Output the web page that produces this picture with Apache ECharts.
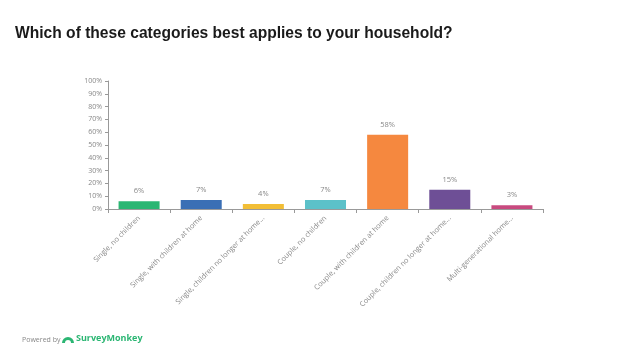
<!DOCTYPE html>
<html>
<head>
<meta charset="utf-8">
<script src="https://cdn.jsdelivr.net/npm/echarts@6/dist/echarts.min.js"></script>
<style>
	html, body { margin: 0; padding: 0; background: #fff; }
	#chart { width: 626px; height: 351px; }
</style>
</head>
<body>
<div id="chart"></div>
<script>
	// 数据
	const categories = [
		'Single, no children',
		'Single, with children at home',
		'Single, children no longer at home...',
		'Couple, no children',
		'Couple, with children at home',
		'Couple, children no longer at home...',
		'Multi-generational home...'
	]
	const values = [6, 7, 4, 7, 58, 15, 3]
	const barColors = ['#2bb673', '#3a6fb5', '#f2be36', '#5cc1c9', '#f5883f', '#6e4f96', '#c84a7f']
	const yTicks = [0, 10, 20, 30, 40, 50, 60, 70, 80, 90, 100]

	const myChart = echarts.init(document.getElementById('chart'))

	const option = {
		animation: false,
		title: {
			text: 'Which of these categories best applies to your household?',
			left: 10,
			top: 21,
			textStyle: {
				fontFamily: 'Liberation Sans',
				fontSize: 15.6,
				fontWeight: 'bold',
				color: '#1a1a1a'
			}
		},
		grid: {
			left: 108,
			right: 83,
			top: 81,
			bottom: 142
		},
		xAxis: {
			type: 'category',
			data: categories,
			axisLine: { lineStyle: { color: '#999' } },
			axisTick: { show: true, length: 4, lineStyle: { color: '#999' } },
			axisLabel: {
				interval: 0,
				rotate: 45,
				margin: 8,
				fontSize: 7.3,
				color: '#888',
				fontFamily: 'Open Sans'
			}
		},
		yAxis: {
			type: 'value',
			min: yTicks[0],
			max: yTicks[yTicks.length - 1],
			interval: 10,
			axisLine: { show: true, lineStyle: { color: '#999' } },
			axisTick: { show: true, length: 3, lineStyle: { color: '#999' } },
			splitLine: { show: false },
			axisLabel: {
				formatter: '{value}%',
				fontSize: 7,
				color: '#888',
				margin: 6,
				fontFamily: 'Open Sans'
			}
		},
		series: [{
			type: 'bar',
			barWidth: '66%',
			data: values.map((v, i) => ({
				value: v,
				itemStyle: { color: barColors[i] }
			})),
			label: {
				show: true,
				position: 'top',
				distance: 6,
				formatter: '{c}%',
				fontSize: 7.5,
				color: '#888',
				fontFamily: 'Open Sans'
			}
		}],
		graphic: [{
			type: 'text',
			left: 22,
			top: 336,
			style: {
				text: 'Powered by',
				fontSize: 7,
				fill: '#888',
				fontFamily: 'Open Sans'
			}
		}, {
			type: 'text',
			left: 76,
			top: 334,
			style: {
				text: 'SurveyMonkey',
				fontSize: 9,
				fontWeight: 'bold',
				fill: '#2bb673',
				fontFamily: 'Open Sans'
			}
		}, {
			type: 'sector',
			shape: { cx: 68, cy: 343, r: 6, r0: 3, startAngle: Math.PI, endAngle: Math.PI * 2 },
			style: { fill: '#2bb673' }
		}]
	}

	myChart.setOption(option)
</script>
</body>
</html>
